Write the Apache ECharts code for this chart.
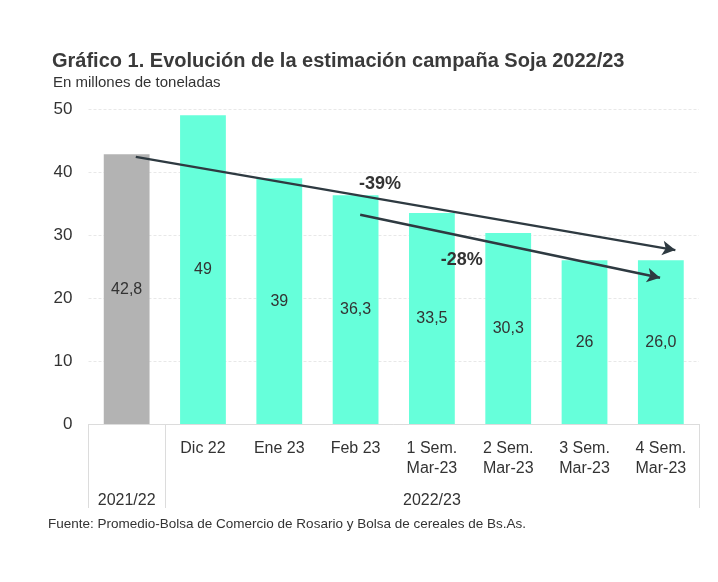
<!DOCTYPE html>
<html>
<head>
<meta charset="utf-8">
<script src="https://cdn.jsdelivr.net/npm/echarts@6/dist/echarts.min.js"></script>
<style>
html,body{margin:0;padding:0;background:#fff;}
#c{width:718px;height:582px;}
</style>
</head>
<body>
<div id="c"></div>
<script>
// ---- data ----
const categories = ['', 'Dic 22', 'Ene 23', 'Feb 23', '1 Sem.\nMar-23', '2 Sem.\nMar-23', '3 Sem.\nMar-23', '4 Sem.\nMar-23'];
const values = [42.8, 49, 39, 36.3, 33.5, 30.3, 26, 26.0];
const valueLabels = ['42,8', '49', '39', '36,3', '33,5', '30,3', '26', '26,0'];
const groupLabels = ['2021/22', '', '', '', '2022/23', '', '', ''];
const yTicks = [0, 10, 20, 30, 40, 50];
// annotation arrows (data units: x = category position, y = value)
const arrow1From = [0.12, 42.4], arrow1To = [7.19, 27.6];
const arrow2From = [3.06, 33.2], arrow2To = [6.99, 23.2];
const arrowLabels = [
  { name: '-39%', coord: [3.32, 38.1] },
  { name: '-28%', coord: [4.39, 26.0] }
];

const FONT = '"Liberation Sans", Arial, sans-serif';
const TXT = '#333333';
const chart = echarts.init(document.getElementById('c'), null, { renderer: 'canvas' });

chart.setOption({
  backgroundColor: '#ffffff',
  animation: false,
  textStyle: { fontFamily: FONT },
  title: [
    { text: 'Gráfico 1. Evolución de la estimación campaña Soja 2022/23', left: 47, top: 46,
      textStyle: { fontFamily: FONT, fontSize: 20, fontWeight: 'bold', color: '#3a3a3a' } },
    { text: 'En millones de toneladas', left: 48, top: 70,
      textStyle: { fontFamily: FONT, fontSize: 15, fontWeight: 'normal', color: TXT } },
    { text: 'Fuente: Promedio-Bolsa de Comercio de Rosario y Bolsa de cereales de Bs.As.', left: 43, top: 512,
      textStyle: { fontFamily: FONT, fontSize: 13.5, fontWeight: 'normal', color: TXT } }
  ],
  grid: { left: 88.5, right: 19, top: 109, bottom: 158, containLabel: false },
  xAxis: [
    {
      type: 'category', data: categories, boundaryGap: true,
      axisLine: { show: true, lineStyle: { color: '#dcdcdc', width: 1 } },
      axisTick: { show: true, interval: function (i) { return i <= 1; }, length: 84, lineStyle: { color: '#dcdcdc', width: 1 } },
      axisLabel: { interval: 0, margin: 15, fontSize: 16, lineHeight: 20, color: TXT, fontFamily: FONT },
      splitLine: { show: false }
    },
    { type: 'value', min: -0.5, max: 7.5, show: false },
    {
      type: 'category', data: groupLabels, position: 'bottom', boundaryGap: true,
      axisLine: { show: false }, axisTick: { show: false },
      axisLabel: { interval: 0, margin: 69, fontSize: 16, color: TXT, fontFamily: FONT }
    }
  ],
  yAxis: {
    type: 'value', min: yTicks[0], max: yTicks[yTicks.length - 1], interval: 10,
    axisLine: { show: false }, axisTick: { show: false },
    axisLabel: { margin: 16, fontSize: 17, color: TXT, fontFamily: FONT },
    splitLine: { show: true, lineStyle: { color: '#e8e8e8', type: [3, 2], width: 1 } }
  },
  series: [
    {
      type: 'bar', xAxisIndex: 0, data: values, barWidth: '60%',
      itemStyle: { color: function (p) { return p.dataIndex === 0 ? '#b3b3b3' : '#66ffda'; } },
      label: { show: true, position: 'inside', fontSize: 16, color: TXT, fontFamily: FONT,
        formatter: function (p) { return valueLabels[p.dataIndex]; } }
    },
    {
      type: 'line', xAxisIndex: 1, data: [], silent: true,
      markLine: {
        silent: true, animation: false,
        symbol: ['none', 'arrow'], symbolSize: [11, 13],
        lineStyle: { color: '#2e3a41', width: 2.5, type: 'solid' },
        label: { show: false },
        data: [
          [{ coord: arrow1From }, { coord: arrow1To }],
          [{ coord: arrow2From }, { coord: arrow2To }]
        ]
      },
      markPoint: {
        silent: true, symbol: 'circle', symbolSize: 1,
        itemStyle: { color: 'rgba(0,0,0,0)' },
        label: { show: true, position: 'inside', formatter: '{b}', fontSize: 18, fontWeight: 'bold', color: '#333', fontFamily: FONT },
        data: arrowLabels
      }
    }
  ]
});
</script>
</body>
</html>
